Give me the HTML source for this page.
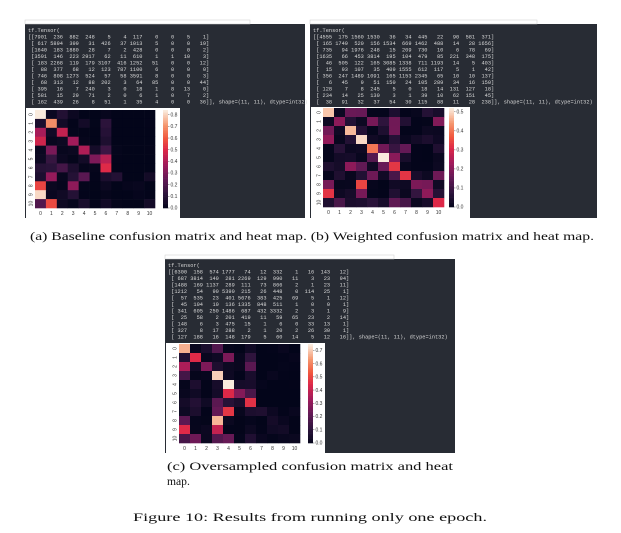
<!DOCTYPE html>
<html><head><meta charset="utf-8"><style>
html,body{margin:0;padding:0;background:#fff;width:621px;height:533px;overflow:hidden}
svg{display:block}
.cap{font-family:"Liberation Serif",serif;font-size:11.6px;fill:#111}
.mono{font-family:"Liberation Mono",monospace;font-size:5.3px;fill:#d8d8d8;white-space:pre}
.tick{font-family:"Liberation Sans",sans-serif;font-size:5px;fill:#333}
</style></head><body>
<svg id="fig" width="621" height="533" viewBox="0 0 621 533" xmlns="http://www.w3.org/2000/svg">
<text class="cap" x="30" y="240" textLength="564" lengthAdjust="spacingAndGlyphs">(a) Baseline confusion matrix and heat map. (b) Weighted confusion matrix and heat map.</text>
<text class="cap" x="167" y="470" textLength="286" lengthAdjust="spacingAndGlyphs">(c) Oversampled confusion matrix and heat</text>
<text class="cap" x="167" y="485">map.</text>
<text class="cap" x="133" y="521" textLength="354" lengthAdjust="spacingAndGlyphs">Figure 10: Results from running only one epoch.</text>
</svg>
<script>
const matA=[
[7901,236,882,248,5,4,117,0,0,5,1],
[617,5894,399,31,426,37,1013,5,0,0,19],
[1640,183,1880,28,7,2,428,0,0,0,2],
[3591,146,223,2917,62,11,610,1,1,10,3],
[183,2268,119,179,3107,416,1252,51,0,0,12],
[88,377,68,12,123,787,1100,6,0,0,0],
[746,808,1273,524,57,58,3591,8,0,0,3],
[68,313,12,88,202,3,64,85,0,0,44],
[395,16,7,240,3,0,18,1,8,13,0],
[581,15,29,71,2,0,6,1,0,7,2],
[162,439,26,8,51,1,35,4,0,0,36]];
const matB=[
[4555,175,1560,1530,36,34,445,22,90,581,371],
[165,1749,520,156,1534,669,1462,488,14,28,1656],
[735,94,1976,248,15,209,730,10,6,78,69],
[1635,66,453,3814,195,104,479,85,221,348,175],
[46,505,122,165,3085,1338,711,1193,14,5,403],
[15,93,107,35,409,1555,612,117,5,1,42],
[356,247,1489,1091,165,1153,2345,65,10,10,137],
[6,45,9,51,150,24,105,289,34,16,150],
[128,7,8,245,5,0,18,14,131,127,18],
[234,14,25,130,3,1,39,10,62,151,45],
[38,91,32,37,54,30,115,88,11,28,238]];
const matC=[
[6300,158,574,1777,74,12,332,1,16,143,12],
[687,3814,140,281,2269,129,990,11,3,23,94],
[1488,169,1137,289,111,73,866,2,1,23,11],
[1212,54,90,5390,215,26,448,0,114,25,1],
[57,535,23,401,5676,383,425,69,5,1,12],
[45,104,10,136,1335,848,511,1,0,0,1],
[341,605,250,1486,687,432,3332,2,3,1,9],
[25,58,2,201,419,11,59,65,23,2,14],
[148,6,3,475,15,1,6,0,33,13,1],
[327,8,17,288,2,1,20,2,26,30,1],
[127,188,16,148,179,5,60,14,5,12,16]];
const classLabels=["0","1","2","3","4","5","6","7","8","9","10"];
const cbTicksA=[0,0.1,0.2,0.3,0.4,0.5,0.6,0.7,0.8];
const cbTicksB=[0,0.1,0.2,0.3,0.4,0.5];
const cbTicksC=[0,0.1,0.2,0.3,0.4,0.5,0.6,0.7];

const NS="http://www.w3.org/2000/svg";
const svg=document.getElementById('fig');
function mk(tag,attrs,parent){const e=document.createElementNS(NS,tag);for(const k in attrs)e.setAttribute(k,attrs[k]);(parent||svg).appendChild(e);return e;}
const stops=[[0,[3,5,26]],[0.15,[45,20,60]],[0.3,[98,25,85]],[0.45,[160,26,91]],[0.6,[221,40,72]],[0.72,[241,88,62]],[0.85,[245,150,110]],[1,[250,235,221]]];
function rocket(t){t=Math.max(0,Math.min(1,t));for(let i=1;i<stops.length;i++){if(t<=stops[i][0]){const a=stops[i-1],b=stops[i];const f=(t-a[0])/(b[0]-a[0]);const c=a[1].map((v,j)=>Math.round(v+(b[1][j]-v)*f));return `rgb(${c})`;}}return 'rgb(250,235,221)';}

function panel(key,mat,ticks,P){
  const g=mk('g',{});
  
  
  const bg=mk('rect',{x:P.x,y:P.y,width:P.w,height:P.h,fill:'#282c34'},g);
  
  
  const bar=mk('rect',{x:P.x,y:P.y-4,width:P.barW,height:4,fill:'#fff',stroke:'#ccc','stroke-width':0.5},g);
  
  
  const lines=['tf.Tensor('];
  mat.forEach((r,i)=>{let s=(i==0?'[[':' [')+r.map(v=>String(v).padStart(4,'\u00a0')).join('\u00a0')+']';if(i==10)s+='], shape=(11, 11), dtype=int32)';lines.push(s);});
  lines.forEach((s,i)=>{const t=mk('text',{x:P.x+3,y:P.y+8+i*6.5},g);t.setAttribute('class','mono');t.textContent=s;
    
    });
  const wb=mk('rect',{x:P.hx,y:P.hy,width:P.hw,height:P.hh,fill:'#fff'},g);
  
  
  const norm=mat.map(r=>{const s=r.reduce((a,b)=>a+b,0);return r.map(v=>v/s);});
  const vmax=Math.max(...norm.flat());
  const n=classLabels.length;
  const cw=(P.cx1-P.cx0)/n, ch=(P.cy1-P.cy0)/n;
  const xs=i=>P.cx0+i*cw, ys=i=>P.cy0+i*ch;
  norm.forEach((r,i)=>r.forEach((v,j)=>{const c=mk('rect',{x:xs(j),y:ys(i),width:cw+0.3,height:ch+0.3,fill:rocket(v/vmax)},g);
    
    }));
  classLabels.forEach((l,i)=>{
    const tx=mk('text',{x:xs(i)+cw/2,y:P.cy1+7,'text-anchor':'middle'},g);tx.setAttribute('class','tick');tx.textContent=l;
    
    
    const cx=P.cx0-4, cy=ys(i)+ch/2;
    const ty=mk('text',{x:cx,y:cy,'text-anchor':'middle','dominant-baseline':'middle',transform:`rotate(-90 ${cx} ${cy})`},g);ty.setAttribute('class','tick');ty.textContent=l;
    
    
  });
  const cbx=P.cbx, cbw=5, steps=60;
  for(let k=0;k<steps;k++){const r=mk('rect',{x:cbx,y:P.cy0+(P.cy1-P.cy0)*k/steps,width:cbw,height:(P.cy1-P.cy0)/steps+0.3,fill:rocket(1-k/steps)},g);
    
    }
  ticks.forEach(t=>{const y=P.cy1-(P.cy1-P.cy0)*t/vmax;
    mk('line',{x1:cbx+cbw,x2:cbx+cbw+1.5,y1:y,y2:y,stroke:'#333','stroke-width':0.4},g);
    const tt=mk('text',{x:cbx+cbw+2.5,y:y+1.7},g);tt.setAttribute('class','tick');tt.textContent=t.toFixed(1);
    
    });
}
panel('a',matA,cbTicksA,{x:25,y:24,w:280,h:194,barW:225,hx:26,hy:108,hw:154,hh:110,cx0:35,cx1:155,cy0:110,cy1:208,cbx:163});
panel('b',matB,cbTicksB,{x:310,y:24,w:287,h:194,barW:227,hx:311,hy:107,hw:159,hh:111,cx0:323,cx1:444,cy0:108,cy1:207,cbx:449});
panel('c',matC,cbTicksC,{x:165,y:259,w:290,h:194,barW:229,hx:166,hy:343,hw:159,hh:110,cx0:179,cx1:300,cy0:344,cy1:443,cbx:308});
</script>
</body></html>
